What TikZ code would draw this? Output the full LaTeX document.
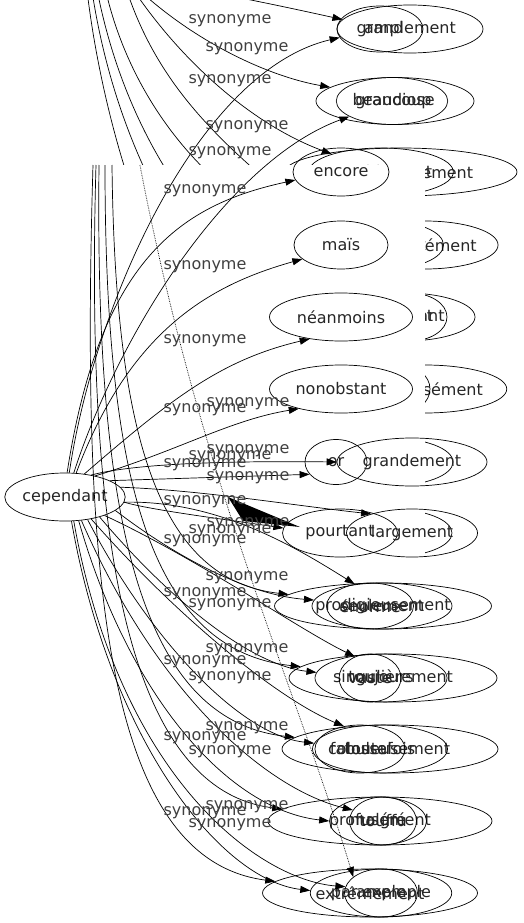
\documentclass[tikz,border=0pt]{standalone}
\usepackage{fontspec}
\setmainfont{DejaVu Sans}
\usetikzlibrary{shapes.geometric,arrows.meta}

\begin{document}
\begin{tikzpicture}[x=1pt,y=-1pt,
  word/.style={draw, ellipse, minimum height=48pt, inner sep=0pt, line width=0.7pt,
    text=black!85, font=\fontsize{16}{19}\selectfont},
  syn/.style={-{Triangle[length=10pt,width=7pt]}, line width=0.7pt},
  lbl/.style={inner sep=0pt, text=black!75, font=\fontsize{16}{19}\selectfont}]
\useasboundingbox (0,0) rectangle (524,923);
\clip (0,0) rectangle (524,923);
% hidden graph behind the blank patch
\node[word, minimum width=146pt] (amp) at (410,29) {amplement};
\node[word, minimum width=86pt, minimum height=46pt] (grand) at (380,29) {grand};
\node[word, minimum width=158pt, minimum height=47pt] (grandiose) at (395,101) {grandiose};
\node[word, minimum width=105pt, minimum height=47pt] (beaucoup) at (392,101) {beaucoup};
\node[word, minimum width=232pt] (consid) at (401,172) {considérablement};
\node[word, minimum width=120pt] (notab) at (381,172) {notablement};
\node[word, minimum width=145pt] (enormem) at (425,245) {énormément};
\node[word, minimum width=115pt] (fortem) at (386,245) {fortement};
\node[word, minimum width=140pt] (import) at (405,317) {important};
\node[word, minimum width=74pt] (geant) at (410,317) {géant};
\node[word, minimum width=160pt] (immens) at (425,389) {immensément};
\node[word, minimum width=60pt] (gros) at (400,389) {gros};
\node[word, minimum width=126pt] (fameux) at (390,462) {fameux};
\node[word, minimum width=124pt] (puiss) at (390,533) {puissant};
\coordinate (t1) at (84,-40);
\coordinate (t2) at (88,-40);
\coordinate (t3) at (92,-40);
\coordinate (t4) at (100,-40);
\coordinate (t5) at (118,-40);
\coordinate (t7) at (110,-40);
\coordinate (t8) at (90,-28);
\coordinate (t9) at (115,-40);
\draw[syn] (t1) .. controls (95,100) and (160,380) .. (fameux.200);
\draw[syn] (t2) .. controls (105,120) and (180,300) .. (immens.190);
\draw[syn] (t3) .. controls (115,120) and (200,260) .. (import.190);
\draw[syn] (t4) .. controls (120,100) and (220,220) .. (enormem.190);
\draw[syn] (t5) .. controls (150,90) and (230,150) .. (fortem.170);
\draw[syn] (t7) .. controls (170,30) and (260,75) .. (grandiose.168);
\draw[syn] (t9) .. controls (160,40) and (240,120) .. (notab.160);
\draw[syn] (t8) .. controls (200,-12) and (290,8) .. (amp.172);
\fill[white] (92,165) rectangle (425,560);
% main graph
\node[word, minimum width=120pt] (cep) at (65,497) {cependant};
\node[word, minimum width=96pt] (encore) at (341,172) {encore};
\node[word, minimum width=94pt] (mais) at (341,245) {maïs};
\node[word, minimum width=143pt] (neanm) at (341,317) {néanmoins};
\node[word, minimum width=143pt] (nonob) at (341,389) {nonobstant};
\node[word, minimum width=62pt, minimum height=45pt] (or) at (336,462) {or};
\node[word, minimum width=150pt] (grandem) at (412,462) {grandement};
\node[word, minimum width=115pt] (pourtant) at (340,533) {pourtant};
\node[word, minimum width=131pt] (largem) at (412,533) {largement};
\node[word, minimum width=217pt, minimum height=46pt] (prodig) at (383,606) {prodigieusement};
\node[word, minimum width=140pt, minimum height=46pt] (seul) at (382,606) {seulement};
\node[word, minimum width=76pt, minimum height=46pt] (enorme) at (370,606) {énorme};
\node[word, minimum width=208pt] (singul) at (393,678) {singulièrement};
\node[word, minimum width=132pt] (toujours) at (381,678) {toujours};
\node[word, minimum width=60pt] (vaste) at (370,678) {vaste};
\node[word, minimum width=216pt] (fabul) at (390,749) {fabuleusement};
\node[word, minimum width=135pt] (toutef) at (380,749) {toutefois};
\node[word, minimum width=80pt] (coloss) at (360,749) {colossal};
\node[word, minimum width=224pt] (profus) at (380,821) {profusément};
\node[word, minimum width=97pt] (malgre) at (378,821) {malgré};
\node[word, minimum width=63pt] (touffu) at (383,821) {touffu};
\node[word, minimum width=215pt] (extrem) at (370,893) {extrêmement};
\node[word, minimum width=132pt] (parex) at (381,893) {par exemple};
\node[word, minimum width=73pt] (ample) at (381,893) {ample};
\draw[syn] (cep.80) .. controls (95,300) and (200,70) .. (grand.192);
\draw[syn] (cep.70) .. controls (120,330) and (230,160) .. (beaucoup.200);
\draw[syn] (cep.85) .. controls (100,260) and (180,205) .. (encore.190);
\draw[syn] (cep.65) .. controls (130,330) and (210,285) .. (mais.200);
\draw[syn] (cep.50) .. controls (170,400) and (220,360) .. (neanm.215);
\draw[syn] (cep.35) .. controls (180,450) and (230,420) .. (nonob.205);
\draw[syn] (cep.40) .. controls (140,462) and (250,461) .. (grandem.west);
\draw[syn] (cep.20) -- (or.205);
\draw[syn] (cep.10) .. controls (200,490) and (290,505) .. (largem.155);
\draw[syn] (cep.-5) .. controls (150,510) and (230,520) .. (pourtant.175);
\fill (228,497) -- (300,527) -- (243,521) -- cycle;
% from the top edge of the patch
\coordinate (b1) at (93,165);
\coordinate (b2) at (96,165);
\coordinate (b3) at (99,165);
\coordinate (b4) at (105,165);
\coordinate (b5) at (112,165);
\coordinate (dtop) at (140,165);
\draw[syn] (b1) .. controls (80,600) and (110,860) .. (extrem.173);
\draw[syn] (b2) .. controls (85,550) and (130,790) .. (profus.173);
\draw[syn] (b3) .. controls (95,520) and (140,720) .. (fabul.173);
\draw[syn] (b4) .. controls (105,480) and (150,650) .. (singul.173);
\draw[syn] (b5) .. controls (115,440) and (160,580) .. (prodig.173);
\draw[syn, densely dotted] (dtop) .. controls (200,480) and (300,700) .. (ample.150);
\draw[syn] (cep.-15) .. controls (180,560) and (250,595) .. (seul.175);
\draw[syn] (cep.-30) .. controls (170,600) and (250,665) .. (toujours.175);
\draw[syn] (cep.-45) .. controls (150,640) and (240,735) .. (toutef.175);
\draw[syn] (cep.-60) .. controls (130,700) and (230,810) .. (malgre.180);
\draw[syn] (cep.-75) .. controls (110,740) and (220,880) .. (parex.178);
\draw[syn] (cep.-5) .. controls (220,500) and (300,550) .. (enorme.125);
\draw[syn] (cep.-25) .. controls (200,560) and (300,630) .. (vaste.125);
\draw[syn] (cep.-40) .. controls (180,620) and (280,700) .. (coloss.125);
\draw[syn] (cep.-55) .. controls (160,700) and (270,790) .. (touffu.160);
\draw[syn] (cep.-70) .. controls (120,780) and (260,880) .. (ample.170);
% labels
\node[lbl] (l1) at (230,21) {synonyme};
\node[lbl] (l2) at (247,49) {synonyme};
\node[lbl] (l3) at (230,81) {synonyme};
\node[lbl] (l4) at (247,127) {synonyme};
\node[lbl] (l5) at (230,153) {synonyme};
\node[lbl] (l6) at (205,191) {synonyme};
\node[lbl] (l7) at (205,267) {synonyme};
\node[lbl] (l8) at (205,341) {synonyme};
\node[lbl] (l9) at (205,410) {synonyme};
\node[lbl] (l10) at (248,404) {synonyme};
\node[lbl] (l11) at (248,451) {synonyme};
\node[lbl] (l12) at (230,457) {synonyme};
\node[lbl] (l13) at (205,465) {synonyme};
\node[lbl] (l14) at (248,478) {synonyme};
\node[lbl] (l15) at (205,502) {synonyme};
\node[lbl] (l16) at (248,524) {synonyme};
\node[lbl] (l17) at (230,531) {synonyme};
\node[lbl] (l18) at (205,541) {synonyme};
\node[lbl] (l19) at (247,578) {synonyme};
\node[lbl] (l20) at (205,594) {synonyme};
\node[lbl] (l21) at (230,605) {synonyme};
\node[lbl] (l22) at (247,650) {synonyme};
\node[lbl] (l23) at (205,662) {synonyme};
\node[lbl] (l24) at (230,678) {synonyme};
\node[lbl] (l25) at (247,728) {synonyme};
\node[lbl] (l26) at (205,738) {synonyme};
\node[lbl] (l27) at (230,752) {synonyme};
\node[lbl] (l28) at (247,807) {synonyme};
\node[lbl] (l29) at (205,813) {synonyme};
\node[lbl] (l30) at (230,825) {synonyme};
\end{tikzpicture}
\end{document}
